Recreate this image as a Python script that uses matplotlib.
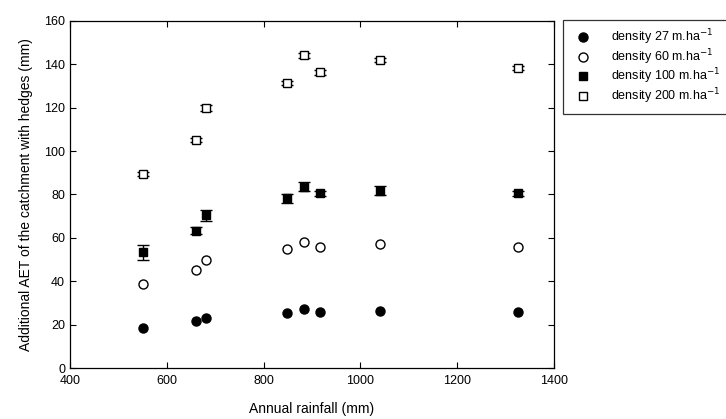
import matplotlib.pyplot as plt

plt.rcParams['font.family'] = ['Liberation Sans', 'DejaVu Sans']

# Annual rainfall (mm) of each year
rainfall = [550, 660, 680, 848, 883, 917, 1040, 1325]

# Additional AET (mm) per hedge density
aet_27 = [18.6, 21.8, 23.0, 25.5, 27.0, 25.8, 26.4, 26.0]
aet_60 = [38.6, 45.3, 49.6, 54.7, 57.9, 55.6, 57.0, 55.8]
aet_100 = [53.3, 63.2, 70.4, 78.2, 83.6, 80.5, 81.8, 80.5]
err_100 = [3.6, 1.6, 2.5, 2.0, 2.0, 1.2, 2.0, 1.2]
aet_200 = [89.3, 105.1, 119.9, 131.5, 144.2, 136.3, 141.9, 138.2]
err_200 = [1.0, 1.0, 1.2, 1.0, 1.2, 1.0, 1.0, 1.0]

fig = plt.figure(figsize=(7.26, 4.19), dpi=100)
ax = fig.add_axes([0.0964, 0.1217, 0.6667, 0.8283])

h27, = ax.plot(rainfall, aet_27, 'o', color='black', markersize=6.5, linestyle='none')
h60, = ax.plot(rainfall, aet_60, 'o', markerfacecolor='white', markeredgecolor='black',
               markersize=6.5, markeredgewidth=1.0, linestyle='none')
e100 = ax.errorbar(rainfall, aet_100, yerr=err_100, fmt='s', color='black',
                   markersize=5.5, capsize=4, elinewidth=1, capthick=1)
e200 = ax.errorbar(rainfall, aet_200, yerr=err_200, fmt='s', color='black',
                   markerfacecolor='white', markeredgecolor='black', markersize=5.5,
                   capsize=4, elinewidth=1, capthick=1)

ax.set_xlim(400, 1400)
ax.set_ylim(0, 160)
ax.set_xticks(range(400, 1401, 200))
ax.set_yticks(range(0, 161, 20))
ax.tick_params(direction='in', top=True, right=True, labelsize=9, length=4)
ax.tick_params(axis='x', pad=5)
for sp in ax.spines.values():
    sp.set_linewidth(0.9)

ax.set_xlabel('Annual rainfall (mm)', fontsize=10, labelpad=11)
ax.set_ylabel('Additional AET of the catchment with hedges (mm)', fontsize=10, labelpad=8)

handles = [h27, h60, e100[0], e200[0]]
labels = ['density 27 m.ha$^{-1}$', 'density 60 m.ha$^{-1}$',
          'density 100 m.ha$^{-1}$', 'density 200 m.ha$^{-1}$']
leg = fig.legend(handles, labels, loc='upper left', bbox_to_anchor=(0.7755, 0.952),
                 fontsize=9, frameon=True, fancybox=False, edgecolor='black',
                 handlelength=2.0, handletextpad=1.2, borderpad=0.6, labelspacing=0.0,
                 borderaxespad=0)
leg.get_frame().set_linewidth(0.9)

fig.savefig('out.png', dpi=100)
plt.close()
